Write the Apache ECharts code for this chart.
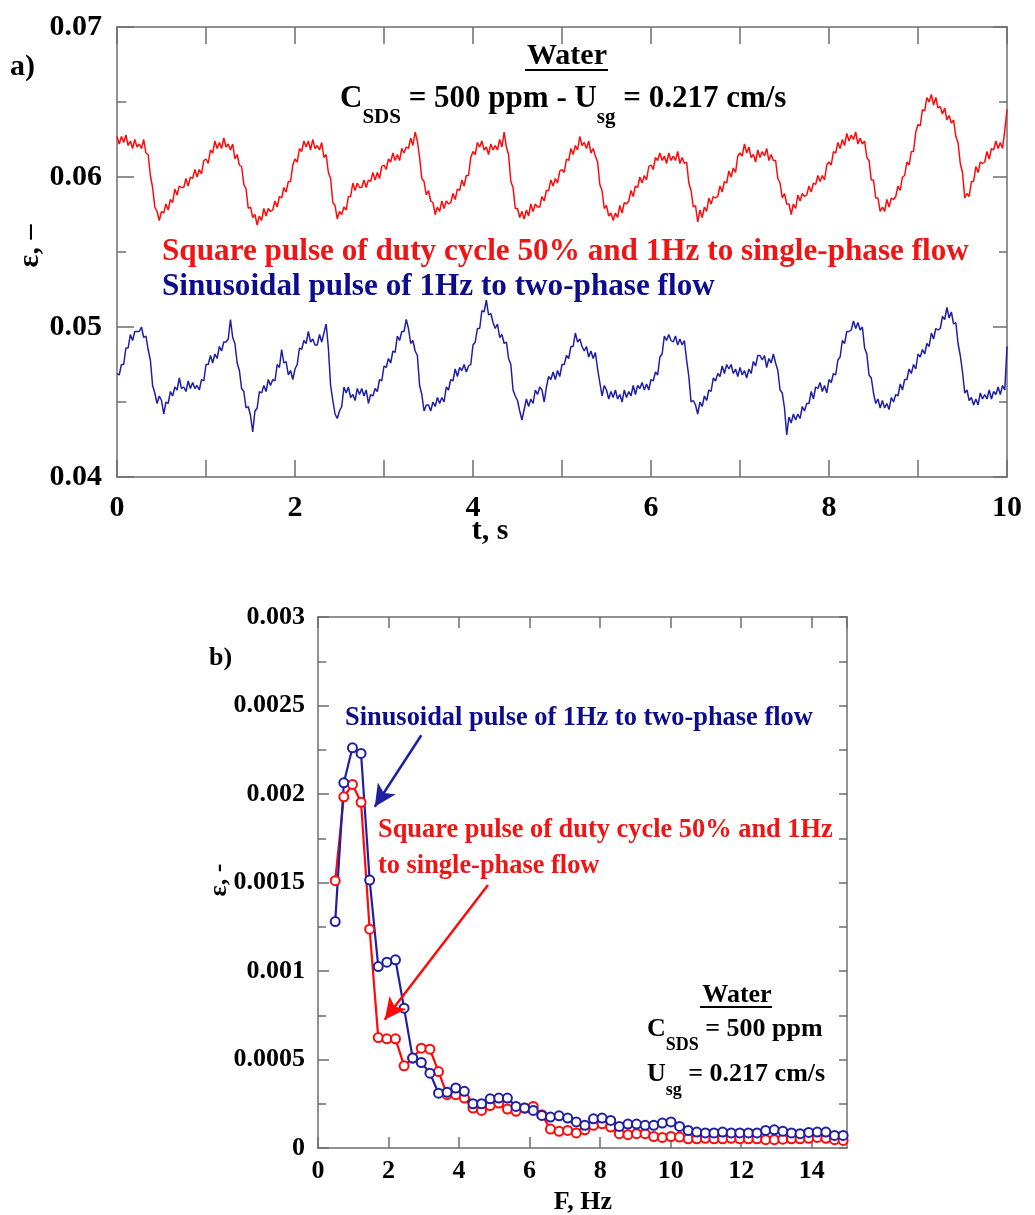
<!DOCTYPE html>
<html>
<head>
<meta charset="utf-8">
<script src="https://cdn.jsdelivr.net/npm/echarts@6/dist/echarts.min.js"></script>
<style>
  html, body { margin: 0; padding: 0; background: #ffffff; }
  #chart { width: 1035px; height: 1215px; }
</style>
</head>
<body>
<div id="chart"></div>
<script>
// Void fraction ε recorded every 0.025 s over 10 s (water, C_SDS = 500 ppm, U_sg = 0.217 cm/s)
const SAMPLE_DT = 0.025;

// Square pulse, duty cycle 50 %, 1 Hz, applied to the single-phase flow
const voidSquarePulse = [
  0.0627,0.0622,0.0627,0.0623,0.0628,0.0621,0.0624,0.0619,0.0625,0.0620,
  0.0622,0.0619,0.0625,0.0616,0.0615,0.0601,0.0593,0.0580,0.0577,0.0571,
  0.0577,0.0576,0.0582,0.0578,0.0585,0.0583,0.0592,0.0588,0.0594,0.0593,
  0.0593,0.0599,0.0594,0.0600,0.0599,0.0605,0.0600,0.0605,0.0602,0.0611,
  0.0612,0.0609,0.0618,0.0616,0.0624,0.0619,0.0623,0.0619,0.0626,0.0620,
  0.0622,0.0618,0.0622,0.0612,0.0615,0.0608,0.0607,0.0595,0.0592,0.0579,
  0.0580,0.0573,0.0575,0.0568,0.0574,0.0571,0.0579,0.0574,0.0579,0.0577,
  0.0578,0.0584,0.0580,0.0587,0.0586,0.0593,0.0590,0.0597,0.0597,0.0608,
  0.0612,0.0610,0.0619,0.0617,0.0624,0.0620,0.0624,0.0618,0.0625,0.0619,
  0.0621,0.0618,0.0623,0.0613,0.0615,0.0603,0.0599,0.0583,0.0581,0.0572,
  0.0577,0.0575,0.0580,0.0578,0.0587,0.0587,0.0596,0.0591,0.0596,0.0593,
  0.0593,0.0598,0.0593,0.0598,0.0597,0.0603,0.0598,0.0603,0.0599,0.0607,
  0.0608,0.0605,0.0612,0.0610,0.0616,0.0611,0.0615,0.0611,0.0619,0.0616,
  0.0620,0.0619,0.0626,0.0621,0.0630,0.0624,0.0613,0.0599,0.0597,0.0588,
  0.0591,0.0584,0.0583,0.0575,0.0580,0.0577,0.0584,0.0579,0.0584,0.0582,
  0.0583,0.0589,0.0585,0.0592,0.0591,0.0598,0.0594,0.0601,0.0601,0.0613,
  0.0617,0.0615,0.0623,0.0620,0.0624,0.0618,0.0620,0.0615,0.0622,0.0618,
  0.0621,0.0618,0.0625,0.0620,0.0630,0.0620,0.0615,0.0597,0.0593,0.0579,
  0.0579,0.0573,0.0577,0.0572,0.0578,0.0574,0.0582,0.0577,0.0582,0.0580,
  0.0580,0.0587,0.0584,0.0591,0.0591,0.0598,0.0594,0.0599,0.0596,0.0604,
  0.0605,0.0603,0.0612,0.0611,0.0619,0.0615,0.0621,0.0618,0.0627,0.0621,
  0.0623,0.0619,0.0624,0.0616,0.0619,0.0614,0.0610,0.0595,0.0591,0.0579,
  0.0581,0.0574,0.0576,0.0571,0.0576,0.0573,0.0581,0.0576,0.0583,0.0582,
  0.0584,0.0591,0.0587,0.0594,0.0593,0.0600,0.0596,0.0601,0.0598,0.0607,
  0.0608,0.0605,0.0613,0.0611,0.0616,0.0611,0.0614,0.0609,0.0616,0.0611,
  0.0614,0.0611,0.0617,0.0609,0.0613,0.0609,0.0610,0.0596,0.0591,0.0580,
  0.0581,0.0570,0.0578,0.0573,0.0580,0.0577,0.0586,0.0582,0.0587,0.0586,
  0.0587,0.0594,0.0590,0.0597,0.0596,0.0604,0.0600,0.0606,0.0603,0.0614,
  0.0616,0.0614,0.0622,0.0616,0.0620,0.0613,0.0615,0.0610,0.0618,0.0613,
  0.0617,0.0614,0.0619,0.0611,0.0615,0.0611,0.0611,0.0599,0.0596,0.0586,
  0.0589,0.0582,0.0582,0.0575,0.0582,0.0579,0.0588,0.0584,0.0589,0.0587,
  0.0588,0.0594,0.0590,0.0596,0.0595,0.0601,0.0597,0.0601,0.0598,0.0608,
  0.0610,0.0608,0.0617,0.0616,0.0623,0.0619,0.0625,0.0621,0.0629,0.0624,
  0.0628,0.0625,0.0630,0.0622,0.0626,0.0622,0.0624,0.0613,0.0611,0.0598,
  0.0598,0.0586,0.0586,0.0577,0.0580,0.0577,0.0585,0.0580,0.0586,0.0585,
  0.0587,0.0594,0.0591,0.0600,0.0601,0.0610,0.0608,0.0617,0.0617,0.0630,
  0.0635,0.0634,0.0645,0.0644,0.0653,0.0650,0.0655,0.0648,0.0653,0.0646,
  0.0647,0.0642,0.0646,0.0638,0.0641,0.0636,0.0638,0.0627,0.0623,0.0609,
  0.0603,0.0586,0.0589,0.0587,0.0597,0.0597,0.0607,0.0603,0.0610,0.0609,
  0.0610,0.0617,0.0612,0.0619,0.0618,0.0624,0.0619,0.0623,0.0619,0.0631,
  0.0645
];

// Sinusoidal pulse, 1 Hz, applied to the two-phase flow
const voidSinePulse = [
  0.0469,0.0468,0.0475,0.0475,0.0486,0.0486,0.0495,0.0491,0.0497,0.0497,
  0.0497,0.0500,0.0493,0.0494,0.0485,0.0478,0.0461,0.0456,0.0449,0.0454,
  0.0451,0.0442,0.0450,0.0449,0.0457,0.0454,0.0460,0.0458,0.0466,0.0459,
  0.0460,0.0457,0.0464,0.0459,0.0463,0.0459,0.0461,0.0458,0.0465,0.0464,
  0.0475,0.0475,0.0481,0.0476,0.0482,0.0479,0.0487,0.0484,0.0490,0.0490,
  0.0492,0.0505,0.0493,0.0489,0.0476,0.0471,0.0459,0.0457,0.0446,0.0447,
  0.0441,0.0430,0.0444,0.0446,0.0457,0.0456,0.0461,0.0457,0.0465,0.0461,
  0.0465,0.0464,0.0475,0.0473,0.0485,0.0476,0.0477,0.0468,0.0471,0.0465,
  0.0472,0.0475,0.0486,0.0485,0.0491,0.0489,0.0497,0.0490,0.0492,0.0488,
  0.0488,0.0495,0.0490,0.0496,0.0502,0.0486,0.0461,0.0451,0.0442,0.0439,
  0.0444,0.0447,0.0460,0.0456,0.0460,0.0453,0.0455,0.0451,0.0459,0.0455,
  0.0459,0.0454,0.0458,0.0449,0.0455,0.0454,0.0459,0.0457,0.0465,0.0464,
  0.0474,0.0473,0.0479,0.0476,0.0484,0.0483,0.0494,0.0491,0.0497,0.0497,
  0.0505,0.0499,0.0489,0.0491,0.0484,0.0481,0.0461,0.0455,0.0444,0.0448,
  0.0448,0.0444,0.0450,0.0447,0.0453,0.0449,0.0453,0.0450,0.0460,0.0458,
  0.0465,0.0464,0.0472,0.0467,0.0473,0.0471,0.0475,0.0470,0.0474,0.0475,
  0.0488,0.0490,0.0499,0.0499,0.0511,0.0510,0.0518,0.0508,0.0509,0.0503,
  0.0499,0.0502,0.0493,0.0495,0.0489,0.0490,0.0479,0.0475,0.0458,0.0454,
  0.0451,0.0444,0.0438,0.0445,0.0452,0.0447,0.0452,0.0449,0.0458,0.0455,
  0.0460,0.0458,0.0450,0.0460,0.0467,0.0465,0.0470,0.0465,0.0471,0.0467,
  0.0475,0.0475,0.0481,0.0479,0.0487,0.0487,0.0496,0.0490,0.0492,0.0487,
  0.0484,0.0487,0.0480,0.0484,0.0479,0.0483,0.0472,0.0463,0.0454,0.0461,
  0.0458,0.0452,0.0457,0.0453,0.0458,0.0452,0.0455,0.0450,0.0458,0.0453,
  0.0457,0.0454,0.0461,0.0455,0.0461,0.0459,0.0463,0.0458,0.0462,0.0458,
  0.0465,0.0464,0.0470,0.0468,0.0480,0.0482,0.0494,0.0491,0.0495,0.0491,
  0.0490,0.0494,0.0488,0.0492,0.0488,0.0491,0.0478,0.0467,0.0450,0.0451,
  0.0448,0.0442,0.0450,0.0447,0.0454,0.0451,0.0458,0.0457,0.0466,0.0464,
  0.0469,0.0467,0.0474,0.0469,0.0475,0.0472,0.0475,0.0469,0.0472,0.0467,
  0.0473,0.0468,0.0471,0.0466,0.0472,0.0469,0.0477,0.0474,0.0481,0.0481,
  0.0478,0.0481,0.0473,0.0479,0.0476,0.0482,0.0476,0.0471,0.0458,0.0456,
  0.0446,0.0428,0.0440,0.0436,0.0442,0.0438,0.0442,0.0439,0.0447,0.0444,
  0.0449,0.0449,0.0457,0.0452,0.0460,0.0459,0.0463,0.0457,0.0461,0.0456,
  0.0465,0.0463,0.0469,0.0468,0.0478,0.0480,0.0491,0.0489,0.0497,0.0497,
  0.0498,0.0504,0.0499,0.0503,0.0498,0.0500,0.0486,0.0482,0.0468,0.0466,
  0.0456,0.0449,0.0452,0.0446,0.0451,0.0446,0.0449,0.0445,0.0453,0.0450,
  0.0455,0.0454,0.0462,0.0458,0.0465,0.0465,0.0472,0.0469,0.0475,0.0472,
  0.0482,0.0480,0.0485,0.0482,0.0489,0.0487,0.0496,0.0492,0.0499,0.0498,
  0.0499,0.0507,0.0505,0.0513,0.0506,0.0510,0.0502,0.0503,0.0489,0.0481,
  0.0470,0.0456,0.0458,0.0451,0.0453,0.0448,0.0452,0.0448,0.0456,0.0452,
  0.0455,0.0452,0.0458,0.0452,0.0457,0.0455,0.0460,0.0455,0.0461,0.0458,
  0.0487
];

// FFT amplitude spectra: bin width 0.2441 Hz, first plotted bin k = 2
const FREQ_BIN = 0.2441;
const FIRST_BIN = 2;
const ampSquarePulse = [
  0.001510,0.001984,0.002054,0.001953,0.001236,0.000624,0.000617,0.000617,0.000464,0.000508,
  0.000564,0.000558,0.000432,0.000301,0.000301,0.000282,0.000226,0.000212,0.000240,0.000254,
  0.000220,0.000207,0.000226,0.000235,0.000188,0.000107,0.000094,0.000099,0.000085,0.000103,
  0.000128,0.000137,0.000118,0.000081,0.000075,0.000081,0.000081,0.000065,0.000060,0.000065,
  0.000062,0.000052,0.000052,0.000055,0.000052,0.000052,0.000055,0.000052,0.000052,0.000052,
  0.000047,0.000047,0.000050,0.000052,0.000052,0.000055,0.000060,0.000055,0.000047,0.000043
];
const ampSinePulse = [
  0.001279,0.002063,0.002261,0.002229,0.001514,0.001025,0.001050,0.001063,0.000790,0.000508,
  0.000483,0.000423,0.000310,0.000315,0.000339,0.000320,0.000250,0.000250,0.000278,0.000282,
  0.000282,0.000235,0.000226,0.000212,0.000184,0.000175,0.000182,0.000169,0.000147,0.000128,
  0.000165,0.000169,0.000156,0.000122,0.000135,0.000135,0.000128,0.000128,0.000141,0.000147,
  0.000122,0.000099,0.000090,0.000085,0.000085,0.000090,0.000085,0.000085,0.000085,0.000085,
  0.000099,0.000103,0.000094,0.000085,0.000081,0.000088,0.000090,0.000090,0.000071,0.000071
];

// Annotation arrows in panel b), [F, ε] of tail and head
const sineArrow = [[2.93, 0.002332], [1.61, 0.001928]];
const squareArrow = [[4.82, 0.001486], [1.89, 0.000724]];

const LABEL_SQUARE = 'Square pulse of duty cycle 50% and 1Hz to single-phase flow';
const LABEL_SINE = 'Sinusoidal pulse of 1Hz to two-phase flow';

const RED = '#ff0a0a';
const BLUE = '#1f1fa6';
const RED_TEXT = '#f01414';
const BLUE_TEXT = '#0c0c8c';
const AXIS = '#6e6e6e';
const SERIF = '"Liberation Serif", "Times New Roman", serif';

const timeSeries = arr => arr.map((v, i) => [+(i * SAMPLE_DT).toFixed(3), v]);
const spectrum = arr => arr.map((v, i) => [+((i + FIRST_BIN) * FREQ_BIN).toFixed(4), v]);

function boxAxis(extra) {
  return Object.assign({
    type: 'value',
    axisLine: { show: true, onZero: false, lineStyle: { color: AXIS, width: 1.5 } },
    axisTick: { show: true, inside: true, lineStyle: { color: AXIS, width: 1.5 } },
    splitLine: { show: false },
    axisLabel: { show: false },
    minorTick: { show: false },
    minorSplitLine: { show: false }
  }, extra);
}

const labelFont = size => ({
  show: true, color: '#000', fontFamily: SERIF, fontWeight: 'bold', fontSize: size
});

const tick = len => ({ show: true, inside: true, length: len, lineStyle: { color: AXIS, width: 1.5 } });

const chart = echarts.init(document.getElementById('chart'), null, { renderer: 'canvas' });

chart.setOption({
  animation: false,
  backgroundColor: '#ffffff',
  grid: [
    { left: 117, top: 27, width: 890, height: 450 },
    { left: 318, top: 617, width: 529, height: 531 }
  ],
  xAxis: [
    boxAxis({
      gridIndex: 0, min: 0, max: 10, interval: 1, position: 'bottom',
      axisTick: tick(17),
      axisLabel: Object.assign(labelFont(30), {
        margin: 16,
        formatter: v => (Math.round(v) % 2 === 0 ? String(Math.round(v)) : '')
      })
    }),
    boxAxis({ gridIndex: 0, min: 0, max: 10, interval: 1, position: 'top', axisTick: tick(17) }),
    boxAxis({
      gridIndex: 1, min: 0, max: 15, interval: 2, position: 'bottom',
      axisTick: tick(11),
      axisLabel: Object.assign(labelFont(26), { margin: 10, showMaxLabel: false })
    }),
    boxAxis({ gridIndex: 1, min: 0, max: 15, interval: 2, position: 'top', axisTick: tick(11) })
  ],
  yAxis: [
    boxAxis({
      gridIndex: 0, min: 0.04, max: 0.07, interval: 0.01, position: 'left',
      axisTick: tick(17),
      minorTick: { show: true, splitNumber: 2, length: 9, lineStyle: { color: AXIS, width: 1.5 } },
      axisLabel: Object.assign(labelFont(30), { margin: 15 })
    }),
    boxAxis({
      gridIndex: 0, min: 0.04, max: 0.07, interval: 0.01, position: 'right',
      axisTick: tick(14),
      minorTick: { show: true, splitNumber: 2, length: 8, lineStyle: { color: AXIS, width: 1.5 } }
    }),
    boxAxis({
      gridIndex: 1, min: 0, max: 0.003, interval: 0.0005, position: 'left',
      axisTick: tick(11),
      minorTick: { show: true, splitNumber: 2, length: 8, lineStyle: { color: AXIS, width: 1.5 } },
      axisLabel: Object.assign(labelFont(26), { margin: 13 })
    }),
    boxAxis({
      gridIndex: 1, min: 0, max: 0.003, interval: 0.0005, position: 'right',
      axisTick: tick(8),
      minorTick: { show: true, splitNumber: 2, length: 8, lineStyle: { color: AXIS, width: 1.5 } }
    })
  ],
  series: [
    {
      name: LABEL_SQUARE, type: 'line', xAxisIndex: 0, yAxisIndex: 0,
      data: timeSeries(voidSquarePulse), showSymbol: false, symbol: 'none',
      lineStyle: { color: RED, width: 1.5 }, silent: true
    },
    {
      name: LABEL_SINE, type: 'line', xAxisIndex: 0, yAxisIndex: 0,
      data: timeSeries(voidSinePulse), showSymbol: false, symbol: 'none',
      lineStyle: { color: BLUE, width: 1.5 }, silent: true
    },
    {
      name: LABEL_SQUARE, type: 'line', xAxisIndex: 2, yAxisIndex: 2,
      data: spectrum(ampSquarePulse), symbol: 'emptyCircle', symbolSize: 9, showSymbol: true,
      lineStyle: { color: RED, width: 2.2 }, itemStyle: { color: RED, borderWidth: 1.3 },
      silent: true,
      markLine: {
        silent: true, symbol: ['none', 'arrow'], symbolSize: [16, 22],
        label: { show: false },
        lineStyle: { color: RED, width: 2.5, type: 'solid' },
        data: [[{ coord: squareArrow[0] }, { coord: squareArrow[1] }]]
      }
    },
    {
      name: LABEL_SINE, type: 'line', xAxisIndex: 2, yAxisIndex: 2,
      data: spectrum(ampSinePulse), symbol: 'emptyCircle', symbolSize: 9, showSymbol: true,
      lineStyle: { color: BLUE, width: 2.2 }, itemStyle: { color: BLUE, borderWidth: 1.3 },
      silent: true,
      markLine: {
        silent: true, symbol: ['none', 'arrow'], symbolSize: [16, 22],
        label: { show: false },
        lineStyle: { color: BLUE, width: 2.5, type: 'solid' },
        data: [[{ coord: sineArrow[0] }, { coord: sineArrow[1] }]]
      }
    }
  ],
  graphic: [
    // panel letters
    { type: 'text', x: 10, y: 67, style: { text: 'a)', font: 'bold 30px ' + SERIF, fill: '#000', align: 'left', verticalAlign: 'middle' } },
    { type: 'text', x: 209, y: 658, style: { text: 'b)', font: 'bold 26px ' + SERIF, fill: '#000', align: 'left', verticalAlign: 'middle' } },

    // axis titles
    { type: 'text', x: 30, y: 246, rotation: Math.PI / 2, style: { text: 'ε, –', font: 'bold 30px ' + SERIF, fill: '#000', align: 'center', verticalAlign: 'middle' } },
    { type: 'text', x: 490, y: 531, style: { text: 't, s', font: 'bold 30px ' + SERIF, fill: '#000', align: 'center', verticalAlign: 'middle' } },
    { type: 'text', x: 219, y: 880, rotation: Math.PI / 2, style: { text: 'ε, -', font: 'bold 26px ' + SERIF, fill: '#000', align: 'center', verticalAlign: 'middle' } },
    { type: 'text', x: 583, y: 1202, style: { text: 'F, Hz', font: 'bold 26px ' + SERIF, fill: '#000', align: 'center', verticalAlign: 'middle' } },

    // panel a) conditions
    { type: 'text', x: 567, y: 56, style: { text: 'Water', font: 'bold 30px ' + SERIF, fill: '#000', align: 'center', verticalAlign: 'middle' } },
    { type: 'line', shape: { x1: 525, y1: 70, x2: 608, y2: 70 }, style: { stroke: '#000', lineWidth: 2 } },
    {
      type: 'text', x: 340, y: 96,
      style: {
        text: '{m|C}{s|SDS}{m| = 500 ppm - U}{s|sg}{m| = 0.217 cm/s}',
        align: 'left', verticalAlign: 'top', fill: '#000',
        rich: {
          m: { fontFamily: SERIF, fontWeight: 'bold', fontSize: 31, lineHeight: 32, padding: [0, 0, 14, 0], verticalAlign: 'bottom', fill: '#000' },
          s: { fontFamily: SERIF, fontWeight: 'bold', fontSize: 21, lineHeight: 22, verticalAlign: 'bottom', fill: '#000' }
        }
      }
    },

    // panel a) series labels
    { type: 'text', x: 162, y: 252, style: { text: LABEL_SQUARE, font: 'bold 31.2px ' + SERIF, fill: RED_TEXT, align: 'left', verticalAlign: 'middle' } },
    { type: 'text', x: 162, y: 287, style: { text: LABEL_SINE, font: 'bold 31.2px ' + SERIF, fill: BLUE_TEXT, align: 'left', verticalAlign: 'middle' } },

    // panel b) series labels
    { type: 'text', x: 345, y: 718, style: { text: LABEL_SINE, font: 'bold 26.4px ' + SERIF, fill: BLUE_TEXT, align: 'left', verticalAlign: 'middle' } },
    { type: 'text', x: 378, y: 830, style: { text: 'Square pulse of duty cycle 50% and 1Hz', font: 'bold 26.4px ' + SERIF, fill: RED_TEXT, align: 'left', verticalAlign: 'middle' } },
    { type: 'text', x: 378, y: 866, style: { text: 'to single-phase flow', font: 'bold 26.4px ' + SERIF, fill: RED_TEXT, align: 'left', verticalAlign: 'middle' } },

    // panel b) conditions
    { type: 'text', x: 737, y: 995, style: { text: 'Water', font: 'bold 26px ' + SERIF, fill: '#000', align: 'center', verticalAlign: 'middle' } },
    { type: 'line', shape: { x1: 700, y1: 1007, x2: 772, y2: 1007 }, style: { stroke: '#000', lineWidth: 2 } },
    {
      type: 'text', x: 647, y: 1026,
      style: {
        text: '{m|C}{s|SDS}{m| = 500 ppm}',
        align: 'left', verticalAlign: 'top', fill: '#000',
        rich: {
          m: { fontFamily: SERIF, fontWeight: 'bold', fontSize: 26, lineHeight: 28, padding: [0, 0, 12, 0], verticalAlign: 'bottom', fill: '#000' },
          s: { fontFamily: SERIF, fontWeight: 'bold', fontSize: 18, lineHeight: 20, verticalAlign: 'bottom', fill: '#000' }
        }
      }
    },
    {
      type: 'text', x: 647, y: 1071,
      style: {
        text: '{m|U}{s|sg}{m| = 0.217 cm/s}',
        align: 'left', verticalAlign: 'top', fill: '#000',
        rich: {
          m: { fontFamily: SERIF, fontWeight: 'bold', fontSize: 26, lineHeight: 28, padding: [0, 0, 12, 0], verticalAlign: 'bottom', fill: '#000' },
          s: { fontFamily: SERIF, fontWeight: 'bold', fontSize: 18, lineHeight: 20, verticalAlign: 'bottom', fill: '#000' }
        }
      }
    }
  ]
});
</script>
</body>
</html>
